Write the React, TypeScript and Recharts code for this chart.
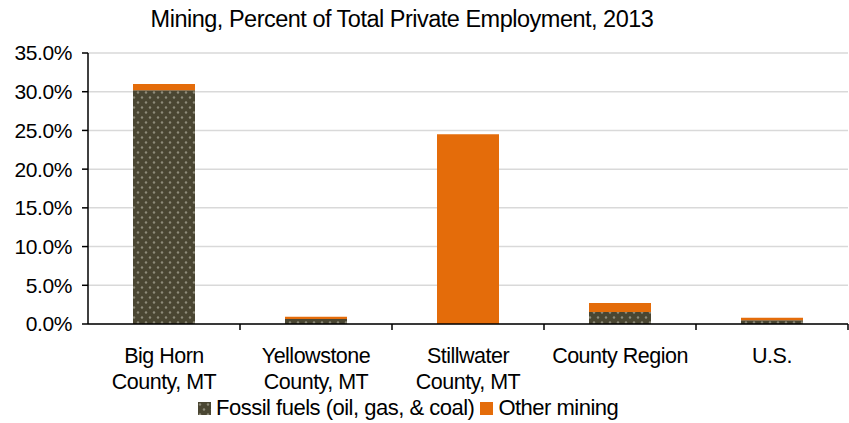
import { BarChart, Bar, XAxis, YAxis, CartesianGrid } from "recharts";

const categories = ["Big Horn\nCounty, MT", "Yellowstone\nCounty, MT", "Stillwater\nCounty, MT", "County Region", "U.S."];
const fossilFuels = [30.2, 0.65, 0, 1.55, 0.5];
const otherMining = [0.8, 0.3, 24.5, 1.15, 0.3];
const yTicks = [0, 5, 10, 15, 20, 25, 30, 35];

const data = categories.map((name, i) => ({
    name,
    fossil: fossilFuels[i],
    other: otherMining[i],
}));

const FONT = "'Liberation Sans', Arial, sans-serif";
const ORANGE = "#E46C0A";
const BAND = 152;

const CategoryTick = (props: any) => {
    const { x, y, payload } = props;
    const lines = String(payload.value).split("\n");
    return (
        <g>
            <line x1={x + BAND / 2} x2={x + BAND / 2} y1={y - 8} y2={y - 2} stroke="#000" strokeWidth={1.5} />
            <text x={x} y={y + 31} textAnchor="middle" fontSize={21.5} fill="#000" fontFamily={FONT} letterSpacing={-0.5}>
                {lines.map((l, i) => (
                    <tspan key={i} x={x} dy={i === 0 ? 0 : 26}>
                        {l}
                    </tspan>
                ))}
            </text>
        </g>
    );
};

export default function App() {
    return (
        <div style={{ position: "absolute", left: 0, top: 0, width: 849, height: 423, background: "#fff" }}>
            <div
                style={{
                    position: "absolute",
                    top: 6,
                    left: 0,
                    width: 804,
                    textAlign: "center",
                    fontFamily: FONT,
                    fontSize: 23.5,
                    letterSpacing: -0.5,
                    color: "#000",
                    whiteSpace: "nowrap",
                    lineHeight: "27px",
                }}
            >
                Mining, Percent of Total Private Employment, 2013
            </div>
            <BarChart width={849} height={423} data={data} margin={{ top: 53, right: 1, bottom: 0, left: 0 }} barSize={62}>
                <defs>
                    <pattern id="fossilDots" width={8} height={10} patternUnits="userSpaceOnUse">
                        <rect width={8} height={10} fill="#4A4632" />
                        <circle cx={2} cy={2.5} r={1.2} fill="#8E8B7A" />
                        <circle cx={6} cy={7.5} r={1.2} fill="#8E8B7A" />
                    </pattern>
                </defs>
                <CartesianGrid vertical={false} stroke="#D9D9D9" strokeWidth={1.5} />
                <XAxis
                    dataKey="name"
                    interval={0}
                    height={99}
                    axisLine={{ stroke: "#000", strokeWidth: 1.5 }}
                    tickLine={false}
                    tick={<CategoryTick />}
                />
                <YAxis
                    width={88}
                    domain={[0, 35]}
                    ticks={yTicks}
                    tickFormatter={(v: number) => v.toFixed(1) + "%"}
                    axisLine={{ stroke: "#000", strokeWidth: 1.5 }}
                    tickLine={{ stroke: "#000", strokeWidth: 1.5 }}
                    tickSize={6}
                    tickMargin={10}
                    tick={{ fontSize: 21, fill: "#000", fontFamily: FONT, letterSpacing: -0.4 }}
                />
                <Bar dataKey="fossil" stackId="a" fill="url(#fossilDots)" isAnimationActive={false} />
                <Bar dataKey="other" stackId="a" fill={ORANGE} isAnimationActive={false} />
            </BarChart>
            <div
                style={{
                    position: "absolute",
                    top: 395,
                    left: 198,
                    display: "flex",
                    alignItems: "center",
                    fontFamily: FONT,
                    fontSize: 22,
                    letterSpacing: -0.5,
                    color: "#000",
                    whiteSpace: "nowrap",
                }}
            >
                <svg width={13} height={13} style={{ marginRight: 5 }}>
                    <rect width={13} height={13} fill="url(#fossilDots)" />
                </svg>
                <span style={{ marginRight: 6 }}>Fossil fuels (oil, gas, &amp; coal)</span>
                <svg width={13} height={13} style={{ marginRight: 5 }}>
                    <rect width={13} height={13} fill={ORANGE} />
                </svg>
                <span>Other mining</span>
            </div>
        </div>
    );
}
